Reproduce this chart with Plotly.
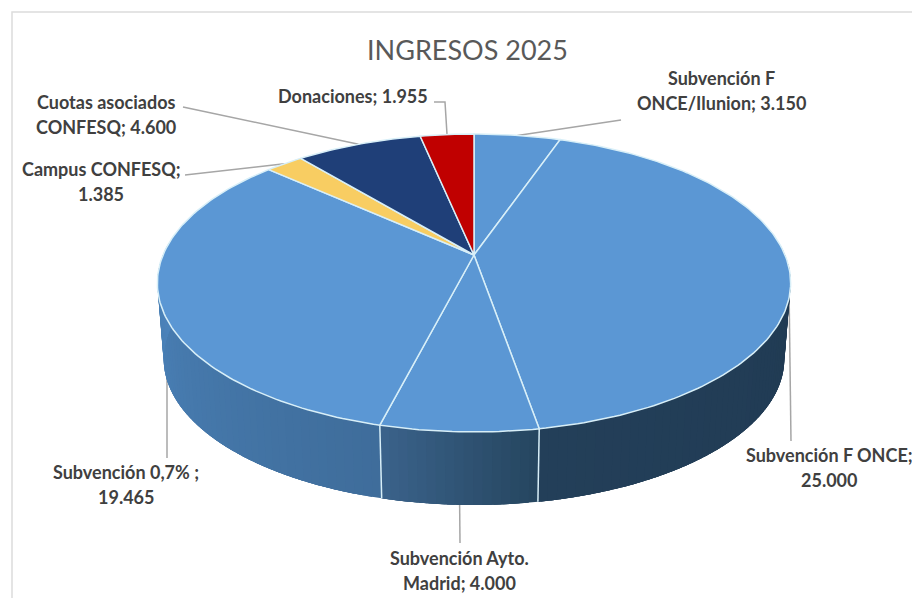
import numpy as np
import plotly.graph_objects as go

# ---- data ----
categories = ["Subvención F ONCE/Ilunion", "Subvención F ONCE", "Subvención Ayto. Madrid",
              "Subvención 0,7% ", "Campus CONFESQ", "Cuotas asociados CONFESQ", "Donaciones"]
values = [3150, 25000, 4000, 19465, 1385, 4600, 1955]
title_text = "INGRESOS 2025"

# ---- style ----
top_colors = ["#5b97d4", "#5b97d4", "#5b97d4", "#5b97d4", "#f8cd62", "#1f3f78", "#c00000"]
# side colours: (start, end) going along the rim, clockwise
side_colors = {1: ("#203a52", "#233f59"), 2: ("#264660", "#3a628a"), 3: ("#3f6d9b", "#4c84bc")}
edge = "#d8eff8"
leader = "#a6a6a6"
text_col = "#404040"
font = "Lato"

# ---- labels: text lines, centre x, first-line y ----
def fmt(v):
    return f"{v:,}".replace(",", ".")

label_lines = [
    ["Subvención F", f"ONCE/Ilunion; {fmt(values[0])}"],
    ["Subvención F ONCE;", fmt(values[1])],
    ["Subvención Ayto.", f"Madrid; {fmt(values[2])}"],
    ["Subvención 0,7% ;", fmt(values[3])],
    ["Campus CONFESQ;", fmt(values[4])],
    ["Cuotas asociados", f"CONFESQ; {fmt(values[5])}"],
    [f"Donaciones; {fmt(values[6])}"],
]
label_pos = [(721, 78), (829, 455), (459, 558), (126, 472), (101, 169), (106, 102), (353, 96)]
# leader routes after the rim anchor (slice mid-angle on the top rim)
leader_routes = [
    [(621, 120)],
    [(791, 441)],
    [(460, 543)],
    [(167, 320), (167, 458)],
    [(185, 175)],
    [(183, 107)],
    [(445, 102), (434, 102)],
]

# ---- projection of the tilted disc ----
CX, CY = 474.0, 255.0
R, S, K = 311.0, 143.7, 0.188


def project(deg, rim=0.0):
    """deg clockwise from 12 o'clock; rim=0 top face, rim=1 bottom face."""
    t = np.radians(np.asarray(deg, dtype=float))
    u, v = np.sin(t), np.cos(t)
    d = 1 + K * v
    scale = 1 - 0.02 * rim
    return CX + R * scale * u / d, CY + 76.5 * rim + S * scale * (-v) / d


def mix(c1, c2, f):
    a = [int(c1[i:i + 2], 16) for i in (1, 3, 5)]
    b = [int(c2[i:i + 2], 16) for i in (1, 3, 5)]
    return "rgb(%d,%d,%d)" % tuple(round(x + (y - x) * f) for x, y in zip(a, b))


cum = np.concatenate([[0], np.cumsum(values)]) / sum(values) * 360
fig = go.Figure()


def poly(x, y, fill, line=None, width=0.0):
    fig.add_trace(go.Scatter(x=x, y=y, mode="lines" if width else "none", fill="toself", fillcolor=fill,
                             line=dict(color=line or fill, width=width),
                             hoverinfo="skip", showlegend=False))


# leaders go behind the disc
for i, route in enumerate(leader_routes):
    ax, ay = project((cum[i] + cum[i + 1]) / 2)
    xs = [float(ax)] + [p[0] for p in route]
    ys = [float(ay)] + [p[1] for p in route]
    fig.add_trace(go.Scatter(x=xs, y=ys, mode="lines", line=dict(color=leader, width=1.5),
                             hoverinfo="skip", showlegend=False))

# side wall: strips overlap the next one so no seams show; each slice keeps its own gradient
VIS_A, VIS_B = 85.0, 275.0
for i, (start, end) in side_colors.items():
    a0, a1 = max(cum[i], VIS_A), min(cum[i + 1], VIS_B)
    steps = np.linspace(a0, a1, int((a1 - a0) / 1.5) + 2)
    for j in range(len(steps) - 1):
        seg = np.linspace(steps[j], a1, 2) if j == len(steps) - 2 else np.linspace(steps[j], min(steps[j + 1] + 4, a1), 4)
        tx, ty = project(seg)
        bx, by = project(seg[::-1], 1)
        poly(np.r_[tx, bx, tx[0]], np.r_[ty, by, ty[0]], mix(start, end, j / (len(steps) - 2)))

# white seams on the wall at the slice boundaries
for a in cum[2:4]:
    tx, ty = project([a])
    bx, by = project([a], 1)
    fig.add_trace(go.Scatter(x=[tx[0], bx[0]], y=[ty[0], by[0]], mode="lines",
                             line=dict(color=edge, width=1.5), hoverinfo="skip", showlegend=False))

# top face
for i, col in enumerate(top_colors):
    arc = np.linspace(cum[i], cum[i + 1], max(int(cum[i + 1] - cum[i]), 2) + 1)
    ax, ay = project(arc)
    poly(np.r_[CX, ax, CX], np.r_[CY, ay, CY], col, edge, 1.5)

fig.add_shape(type="path", xref="x", yref="y",
              path="M 912 12 L 12 12 L 12 598",
              line=dict(color="#dcdcdc", width=1.5), layer="below")

# labels
for lines, (lx, ly) in zip(label_lines, label_pos):
    for n, line in enumerate(lines):
        fig.add_annotation(x=lx, y=ly + n * 24.5, text=line, showarrow=False, xanchor="center",
                           yanchor="middle", font=dict(family=font, size=18, color=text_col, weight="bold"))
fig.add_annotation(x=467, y=49, text=title_text, showarrow=False, xanchor="center", yanchor="middle",
                   font=dict(family=font, size=27, color="#595959"))

fig.update_layout(width=912, height=598, margin=dict(l=0, r=0, t=0, b=0), autosize=False,
                  paper_bgcolor="white", plot_bgcolor="white", showlegend=False,
                  xaxis=dict(range=[0, 912], visible=False, fixedrange=True),
                  yaxis=dict(range=[598, 0], visible=False, fixedrange=True))
fig.write_html("out.html", config=dict(displayModeBar=False),
               post_script="document.body.style.margin='0';document.documentElement.style.overflow='hidden';")
